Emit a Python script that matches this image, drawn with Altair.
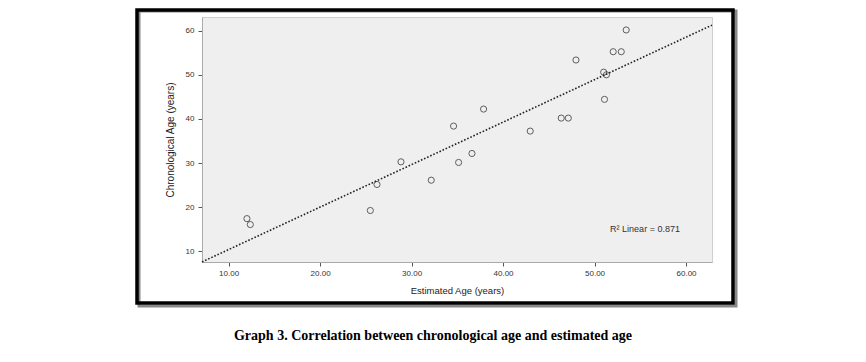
import altair as alt
import pandas as pd
import numpy as np

# Data
estimated_age = [12.37, 12.0, 25.49, 26.22, 28.84, 32.15, 34.59, 35.14, 36.60, 37.87,
                 42.97, 46.36, 47.13, 47.97, 51.09, 51.0, 51.3, 52.04, 52.92, 53.46]
chronological_age = [16.06, 17.4, 19.24, 25.14, 30.27, 26.11, 38.37, 30.13, 32.17, 42.23,
                     37.24, 40.19, 40.19, 53.35, 44.43, 50.6, 50.0, 55.23, 55.23, 60.16]
x_ticks = [10, 20, 30, 40, 50, 60]
y_ticks = [10, 20, 30, 40, 50, 60]
x_domain = [7.09, 62.84]
y_domain = [7.57, 63.1]
caption = "Graph 3. Correlation between chronological age and estimated age"

df = pd.DataFrame({"est": estimated_age, "chrono": chronological_age})
xa = np.array(estimated_age); ya = np.array(chronological_age)
r2 = np.corrcoef(xa, ya)[0, 1] ** 2

W, H = 510, 245
FONT = "Liberation Sans"

xs = alt.Scale(domain=x_domain, nice=False, zero=False)
ys = alt.Scale(domain=y_domain, nice=False, zero=False)

x_axis = alt.Axis(values=x_ticks, format=".2f", title="Estimated Age (years)", grid=False,
                  labelFont=FONT, labelFontSize=8, labelColor="#333", tickColor="#555",
                  tickSize=4, domainColor="#aaa", titleFont=FONT, titleFontSize=9.5,
                  titleFontWeight="normal", titleColor="#222", titlePadding=8, labelPadding=3)
y_axis = alt.Axis(values=y_ticks, format="d", title="Chronological Age (years)", grid=False,
                  labelFont=FONT, labelFontSize=8, labelColor="#333", tickColor="#555",
                  tickSize=4, domainColor="#aaa", titleFont=FONT, titleFontSize=10,
                  titleFontWeight="normal", titleColor="#222", titlePadding=10, labelPadding=4)

base = alt.Chart(df)

points = base.mark_point(shape="circle", filled=False, color="#222", size=38,
                         strokeWidth=1).encode(
    x=alt.X("est:Q", scale=xs, axis=x_axis),
    y=alt.Y("chrono:Q", scale=ys, axis=y_axis),
)

fit = base.transform_regression("est", "chrono", extent=x_domain).mark_line(
    color="#222", strokeWidth=1.6, strokeDash=[1.6, 1.8]).encode(
    x=alt.X("est:Q", scale=xs),
    y=alt.Y("chrono:Q", scale=ys),
)

r2_text = alt.Chart(pd.DataFrame({"t": [f"R\u00b2 Linear = {r2:.3f}"]})).mark_text(
    font=FONT, fontSize=9, color="#333", align="center", baseline="middle").encode(
    x=alt.value(443), y=alt.value(212), text="t:N")

frame_shadow = alt.Chart(pd.DataFrame({"a": [0]})).mark_rect(
    fillOpacity=0, stroke="#888", strokeWidth=3, clip=False).encode(
    x=alt.value(-63), x2=alt.value(534), y=alt.value(-6), y2=alt.value(289))
frame = alt.Chart(pd.DataFrame({"a": [0]})).mark_rect(
    fillOpacity=0, stroke="#000", strokeWidth=3.5, clip=False).encode(
    x=alt.value(-65), x2=alt.value(531), y=alt.value(-7), y2=alt.value(286))

cap = alt.Chart(pd.DataFrame({"t": [caption]})).mark_text(
    font="Liberation Serif", fontSize=14, fontWeight="bold", color="#000",
    align="center", baseline="middle", clip=False).encode(
    x=alt.value(231), y=alt.value(319), text="t:N")

chart = alt.layer(frame_shadow, frame, fit, points, r2_text, cap).properties(
    width=W, height=H,
    autosize=alt.AutoSizeParams(type="none"),
    padding={"left": 194, "top": 9, "right": 140, "bottom": 90},
    background="white",
).configure_view(fill="#efefef", stroke="#cfcfcf", strokeWidth=1)

chart.save("out.html", embed_options={"renderer": "svg", "actions": False})
